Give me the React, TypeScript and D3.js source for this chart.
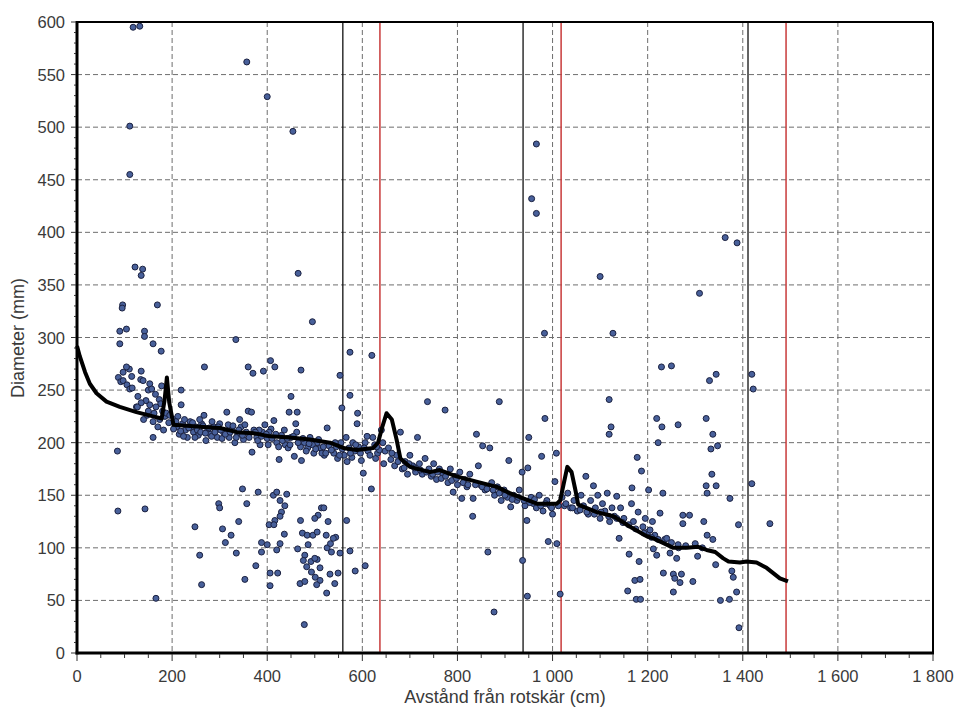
import React from "react";
import * as d3 from "d3";

// axis ticks
const xTicks = [0, 200, 400, 600, 800, 1000, 1200, 1400, 1600, 1800];
const yTicks = [0, 50, 100, 150, 200, 250, 300, 350, 400, 450, 500, 550, 600];

// vertical markers (cm)
const blackMarkers = [559, 938, 1411];
const redMarkers = [637, 1018, 1491];

// trend curve
const trendX = [0, 6, 17, 27, 41, 62, 90, 125, 160, 178, 184, 189, 194, 203, 231, 266, 301, 336, 371, 406, 448, 490, 532, 560, 588, 623, 633, 642, 651, 662, 672, 680, 700, 742, 763, 798, 840, 883, 910, 938, 967, 1009, 1016, 1023, 1031, 1040, 1048, 1054, 1093, 1128, 1163, 1198, 1212, 1240, 1254, 1282, 1306, 1324, 1342, 1359, 1370, 1394, 1408, 1429, 1450, 1478, 1495];
const trendY = [292, 282, 267, 256, 247, 239, 234, 229, 225, 223, 240, 262, 238, 217, 216, 215, 214, 210, 209, 206, 205, 203, 200, 195, 193, 195, 200, 215, 228, 222, 203, 185, 177, 172, 174, 168, 163, 158, 152, 147, 142, 142, 145, 160, 177, 172, 155, 141, 134, 130, 120, 111, 109, 103, 100, 100, 101, 98, 96, 90, 87, 86, 87, 86, 81, 71, 68];

// measured logs [cm, mm]
const outliers = [
  [118, 595], [132, 596], [357, 562], [400, 529], [111, 501], [454, 496], [111, 455], [966, 484], [956, 432], [966, 418],
  [1363, 395], [1388, 390], [122, 367], [138, 365], [135, 359], [465, 361], [1100, 358], [1309, 342], [96, 331], [95, 328],
  [169, 331], [495, 315], [90, 306], [104, 308], [142, 306], [142, 301], [334, 298], [983, 304], [1127, 304], [90, 294],
  [160, 294], [177, 287], [574, 286], [620, 283], [1229, 272], [1250, 273], [268, 272], [360, 272], [370, 266], [392, 268],
  [407, 278], [416, 272], [471, 269], [1330, 259], [1344, 265], [1419, 265], [1422, 251], [1119, 241], [553, 264], [574, 245],
  [557, 233], [590, 228], [737, 239], [774, 231], [888, 239], [450, 244], [446, 229], [463, 229], [460, 218], [1123, 215],
  [1119, 208], [1219, 223], [1230, 215], [1264, 217], [1323, 223], [1337, 208], [1347, 197], [1333, 194], [1222, 200], [984, 223],
  [840, 208], [853, 197], [868, 195], [950, 205], [1008, 190], [977, 187],
];

const leftBand = [
  [87, 262], [97, 267], [110, 270], [104, 272], [115, 263], [92, 258], [97, 259], [105, 255], [135, 268], [134, 260],
  [139, 259], [153, 256], [150, 250], [157, 251], [178, 254], [111, 251], [116, 252], [173, 241], [176, 237], [125, 234],
  [153, 236], [166, 234], [147, 226], [140, 222], [160, 220], [193, 219], [185, 225], [170, 215], [160, 205], [85, 192],
  [219, 250], [219, 236], [127, 234], [128, 244], [145, 240], [165, 246], [180, 230], [188, 228], [195, 226], [182, 212],
  [174, 222], [162, 228], [150, 230], [135, 238],
];

const midBand = [
  [205, 222], [210, 215], [215, 208], [222, 218], [228, 212], [232, 205], [238, 220], [245, 210], [250, 215], [255, 207],
  [262, 218], [267, 226], [271, 202], [275, 212], [280, 208], [288, 215], [295, 205], [300, 218], [308, 210], [315, 229],
  [320, 205], [326, 212], [332, 200], [338, 208], [345, 215], [350, 203], [360, 230], [367, 229], [368, 191], [372, 212],
  [378, 205], [385, 198], [390, 210], [395, 217], [400, 204], [408, 213], [414, 221], [420, 200], [425, 184], [430, 207],
  [438, 198], [450, 205], [457, 187], [462, 210], [472, 183], [478, 200], [485, 195], [490, 205], [498, 190], [505, 200],
  [512, 195], [520, 188], [526, 214], [530, 197], [540, 190], [548, 185], [555, 200], [562, 188], [568, 182], [572, 195],
  [578, 186], [584, 192], [589, 218], [598, 183], [602, 171], [606, 200], [612, 192], [619, 156], [622, 205], [628, 185],
  [632, 190], [640, 212], [645, 180], [212, 225], [226, 222], [241, 215], [258, 222], [284, 220], [302, 212], [318, 217],
  [342, 222], [356, 210], [383, 212], [404, 210], [436, 212], [444, 195], [470, 196], [495, 198], [515, 190], [545, 196],
  [566, 205], [580, 200], [592, 196], [610, 206], [626, 198], [636, 193],
  [203, 213], [208, 220], [218, 211], [224, 206], [235, 214], [243, 219], [248, 205], [253, 212], [260, 210], [265, 216],
  [270, 209], [278, 214], [283, 206], [290, 210], [297, 215], [305, 204], [312, 208], [322, 210], [328, 216], [335, 205],
  [340, 212], [348, 207], [353, 217], [362, 205], [375, 210], [380, 202], [388, 206], [398, 208], [402, 198], [410, 204],
  [418, 208], [424, 196], [432, 202], [442, 204], [448, 198], [455, 206], [465, 200], [475, 204], [482, 192], [488, 199],
  [502, 194], [508, 203], [518, 196], [523, 190], [535, 193], [543, 200], [552, 188], [558, 194], [575, 190], [586, 198],
  [596, 190], [604, 195], [616, 188], [630, 196], [643, 200], [648, 192],
];

const rightBand = [
  [655, 195], [660, 184], [668, 178], [672, 188], [680, 210], [684, 175], [690, 182], [695, 170], [700, 188], [706, 178],
  [712, 172], [716, 205], [720, 180], [726, 170], [732, 185], [740, 175], [745, 168], [750, 180], [756, 165], [762, 175],
  [770, 170], [780, 162], [785, 175], [791, 153], [795, 168], [800, 160], [805, 172], [809, 147], [815, 165], [820, 158],
  [826, 170], [832, 130], [833, 147], [844, 178], [848, 160], [858, 155], [872, 162], [878, 150], [884, 158], [892, 145],
  [898, 155], [905, 148], [908, 183], [912, 139], [918, 150], [925, 145], [930, 155], [936, 172], [942, 140], [946, 126],
  [948, 176], [955, 148], [960, 142], [966, 138], [972, 150], [980, 135], [988, 145], [995, 140], [1000, 132], [1005, 163],
  [1020, 148], [1025, 140], [1032, 152], [1038, 138], [1045, 145], [1052, 135], [1060, 150], [1065, 140], [1070, 168], [1075, 132],
  [1080, 145], [1086, 159], [1090, 138], [1095, 150], [1100, 128], [1105, 142], [1110, 135], [1115, 152], [1120, 125], [1125, 138],
  [1130, 130], [1135, 149], [1143, 138], [1150, 128], [1166, 142], [1167, 157], [1170, 125], [1178, 186], [1180, 134], [1187, 173],
  [1190, 120], [1195, 128], [1200, 115], [1202, 155], [1205, 117], [1210, 125], [1215, 112], [1226, 133], [1232, 152], [1236, 108],
  [1240, 109], [1274, 131], [1274, 123], [1288, 131], [1318, 125], [1323, 159], [1325, 112], [1325, 152], [1335, 170], [1337, 108],
  [1344, 159], [1373, 147], [1391, 122], [1419, 161], [1457, 123],
  [662, 190], [675, 182], [688, 176], [698, 180], [710, 176], [722, 174], [735, 172], [748, 170], [758, 172], [766, 166],
  [775, 168], [788, 164], [798, 166], [812, 162], [822, 160], [838, 160], [852, 158], [862, 156], [875, 155], [888, 152],
  [900, 150], [915, 146], [928, 148], [940, 145], [952, 143], [962, 146], [975, 140], [985, 142], [998, 138], [1012, 140],
  [1028, 142], [1042, 138], [1058, 136], [1072, 134], [1088, 132], [1102, 134], [1118, 130], [1135, 128], [1148, 124], [1160, 122],
  [1175, 118], [1192, 114], [1208, 110], [1222, 108], [1250, 105], [1265, 100], [1280, 102], [1300, 104], [1315, 100],
];

const lowPoints = [
  [298, 142], [300, 138], [324, 112], [248, 120], [258, 93], [262, 65], [306, 118], [312, 105], [340, 125], [335, 95],
  [348, 156], [357, 142], [381, 153], [413, 150], [420, 153], [441, 151], [427, 145], [437, 140], [430, 134], [427, 130],
  [416, 126], [404, 122], [414, 122], [514, 138], [519, 138], [507, 131], [500, 128], [470, 126], [528, 125], [567, 126],
  [436, 113], [474, 114], [484, 112], [496, 112], [505, 115], [524, 112], [544, 110], [388, 105], [400, 103], [427, 104],
  [388, 96], [420, 98], [464, 99], [486, 103], [526, 100], [533, 104], [535, 96], [553, 95], [574, 97], [479, 93],
  [476, 88], [505, 89], [492, 87], [500, 90], [483, 82], [511, 81], [493, 77], [501, 72], [511, 69], [469, 66],
  [479, 68], [504, 65], [525, 57], [532, 75], [549, 76], [542, 66], [376, 83], [406, 76], [422, 76], [353, 70],
  [406, 64], [585, 78], [606, 83], [478, 27], [539, 109], [166, 52], [86, 135], [143, 137],
  [864, 96], [877, 39], [937, 88], [947, 54], [991, 106], [1009, 104], [1016, 56], [1140, 109], [1158, 59], [1161, 94],
  [1173, 69], [1184, 70], [1182, 87], [1176, 51], [1185, 51], [1212, 99], [1219, 93], [1233, 76], [1247, 95], [1254, 75],
  [1257, 71], [1254, 58], [1261, 90], [1264, 103], [1268, 67], [1271, 75], [1295, 68], [1305, 92], [1343, 84], [1353, 50],
  [1372, 51], [1377, 78], [1380, 72], [1387, 58], [1392, 24],
];

const W = 957;
const H = 708;
const x = d3.scaleLinear().domain([0, 1800]).range([77, 933]);
const y = d3.scaleLinear().domain([0, 600]).range([653, 22]);
const fmt = (v: number) => d3.format(",")(v).replace(",", " ");
const font = "'Liberation Sans', Arial, sans-serif";

export default function App() {
  const points = [...outliers, ...leftBand, ...midBand, ...rightBand, ...lowPoints];
  const line = d3
    .line<number>()
    .x((_, i) => x(trendX[i]))
    .y((d) => y(d));

  const xMinor = d3.range(0, 1801, 50);
  const yMinor = d3.range(0, 601, 10);

  return (
    <svg width={W} height={H} style={{ position: "absolute", left: 0, top: 0, background: "#fff" }}>
      <rect x={0} y={0} width={W} height={H} fill="#fff" />
      {/* grid */}
      <g stroke="#6e6e6e" strokeWidth={1} strokeDasharray="5,3">
        {xTicks.slice(1, -1).map((t) => (
          <line key={"gx" + t} x1={x(t)} x2={x(t)} y1={y(600)} y2={y(0)} />
        ))}
        {yTicks.slice(1, -1).map((t) => (
          <line key={"gy" + t} x1={x(0)} x2={x(1800)} y1={y(t)} y2={y(t)} />
        ))}
      </g>
      {/* markers */}
      {blackMarkers.map((m) => (
        <line key={"b" + m} x1={x(m)} x2={x(m)} y1={y(600)} y2={y(0)} stroke="#111" strokeWidth={1.3} />
      ))}
      {redMarkers.map((m) => (
        <line key={"r" + m} x1={x(m)} x2={x(m)} y1={y(600)} y2={y(0)} stroke="#c83a3a" strokeWidth={1.5} />
      ))}
      {/* points */}
      <g fill="#48609a" stroke="#1b2140" strokeWidth={1}>
        {points.map((p, i) => (
          <circle key={i} cx={x(p[0])} cy={y(p[1])} r={3} />
        ))}
      </g>
      {/* trend */}
      <path d={line(trendY) || ""} fill="none" stroke="#000" strokeWidth={4} strokeLinejoin="round" />
      {/* frame */}
      <line x1={x(0)} x2={x(1800)} y1={y(600)} y2={y(600)} stroke="#000" strokeWidth={2} />
      <line x1={x(1800)} x2={x(1800)} y1={y(600)} y2={y(0)} stroke="#000" strokeWidth={2} />
      <line x1={x(0)} x2={x(0)} y1={y(600) - 1} y2={y(0) + 1.5} stroke="#000" strokeWidth={3} />
      <line x1={x(0) - 1.5} x2={x(1800) + 1} y1={y(0)} y2={y(0)} stroke="#000" strokeWidth={3} />
      {/* ticks */}
      <g stroke="#333" strokeWidth={1}>
        {xMinor.map((t) => (
          <line key={"xt" + t} x1={x(t)} x2={x(t)} y1={y(0) + 1} y2={y(0) + (t % 200 === 0 ? 8 : 5)} />
        ))}
        {yMinor.map((t) => (
          <line key={"yt" + t} x1={x(0) - (t % 50 === 0 ? 6 : 3)} x2={x(0) - 1} y1={y(t)} y2={y(t)} />
        ))}
      </g>
      <g fontFamily={font} fontSize={16.5} fill="#3a3a3a">
        {xTicks.map((t) => (
          <text key={"xl" + t} x={x(t)} y={682} textAnchor="middle">
            {fmt(t)}
          </text>
        ))}
        {yTicks.map((t) => (
          <text key={"yl" + t} x={65} y={y(t) + 6} textAnchor="end">
            {t}
          </text>
        ))}
      </g>
      <g fontFamily={font} fontSize={18} fill="#3a3a3a">
        <text x={505} y={703} textAnchor="middle">
          Avstånd från rotskär (cm)
        </text>
        <text transform={`translate(24,338) rotate(-90)`} textAnchor="middle">
          Diameter (mm)
        </text>
      </g>
    </svg>
  );
}
